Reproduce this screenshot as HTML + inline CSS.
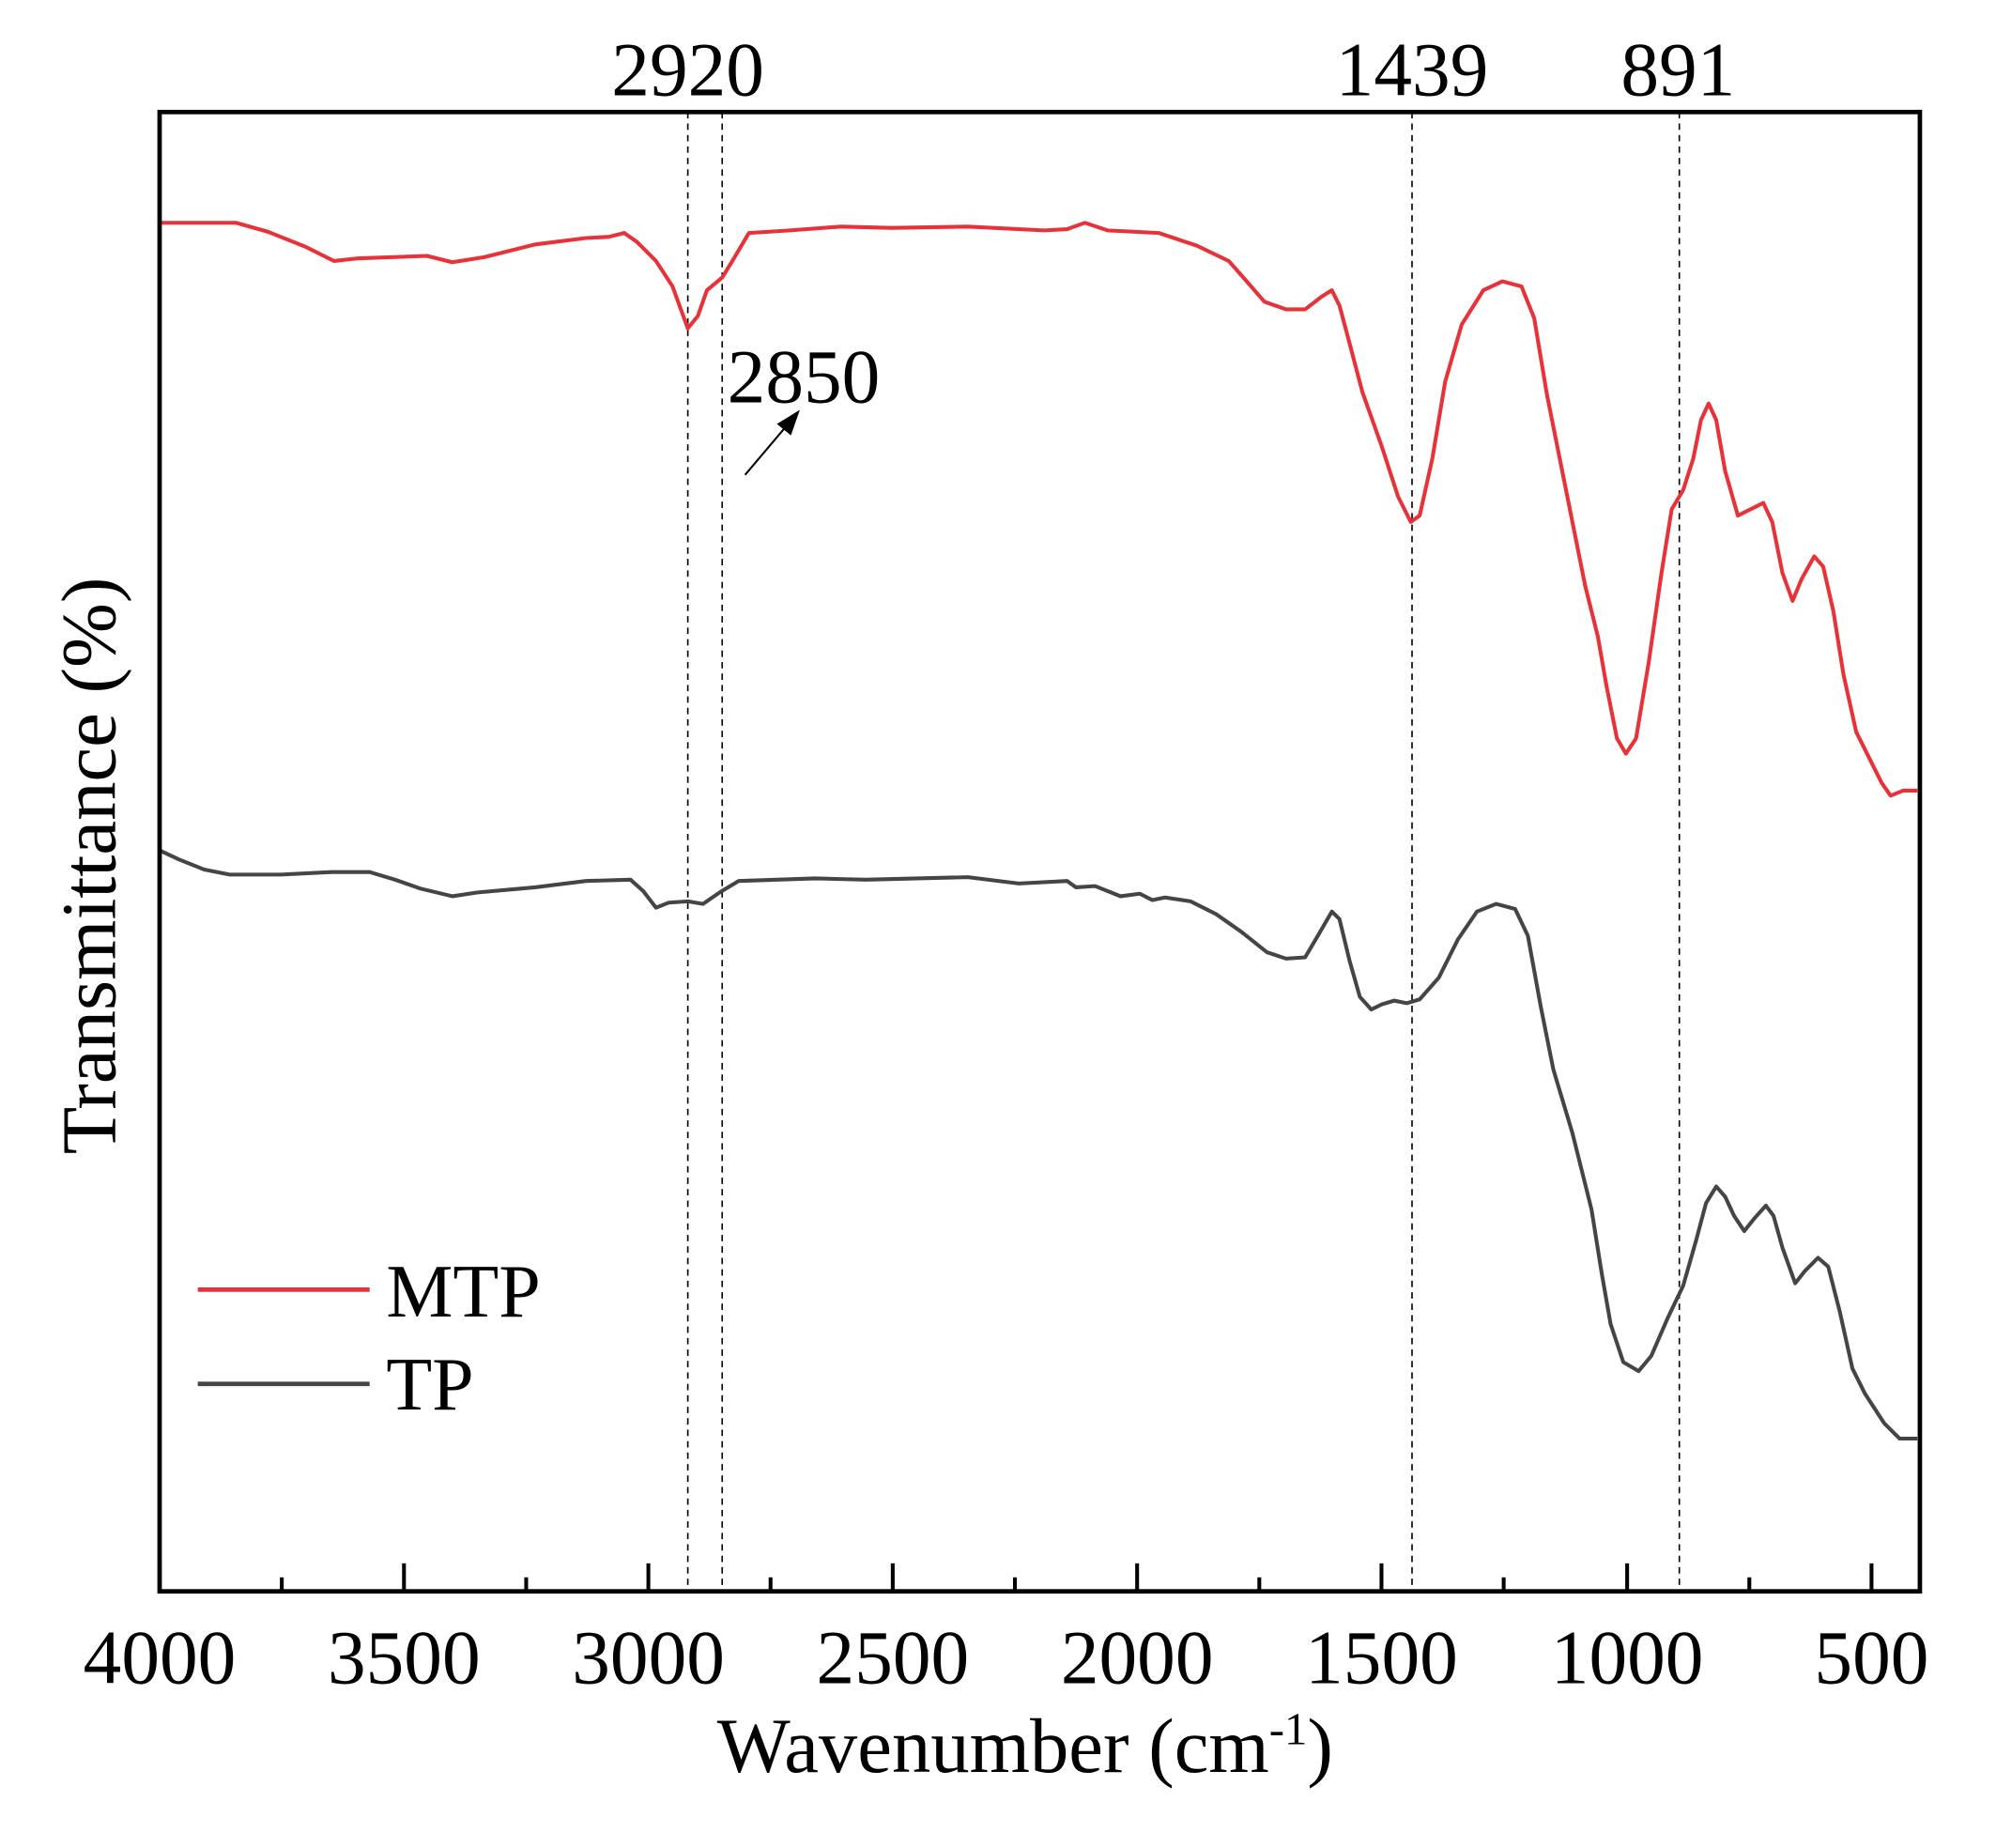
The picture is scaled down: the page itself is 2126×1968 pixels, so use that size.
<!DOCTYPE html>
<html><head><meta charset="utf-8"><style>html,body{margin:0;padding:0;background:#fff}svg{display:block}</style></head>
<body>
<svg width="2126" height="1968" viewBox="-0.4 0 1568.2 1451.6" preserveAspectRatio="none" xmlns="http://www.w3.org/2000/svg" font-family="Liberation Serif, serif">
<g stroke="#000" stroke-width="1.2" stroke-dasharray="5,4" fill="none">
<line x1="540" y1="88" x2="540" y2="1250"/><line x1="567" y1="88" x2="567" y2="1250"/>
<line x1="1109" y1="88" x2="1109" y2="1250"/><line x1="1319" y1="88" x2="1319" y2="1250"/>
</g>
<polyline fill="none" stroke="#e8323a" stroke-width="3" stroke-linejoin="round" points="125,175 185,175 210,182 240,194 262,205 280,203 335,201 355,206 380,202 420,192 460,187 478,186 490,183 500,190 515,205 528,225 540,258 548,248 555,228 567,218 575,205 588,183 620,181 660,178 700,179 760,178 820,181 838,180 852,175 870,181 910,183 940,193 965,205 980,222 993,237 1010,243 1025,243 1038,233 1046,228 1052,240 1060,270 1070,308 1085,350 1098,390 1108,410 1115,405 1125,360 1135,300 1148,255 1165,228 1180,221 1195,225 1205,250 1215,310 1225,360 1235,410 1245,460 1255,500 1262,540 1270,580 1277,592 1285,580 1295,520 1305,450 1313,400 1322,385 1330,360 1336,330 1342,317 1348,330 1355,370 1365,405 1375,400 1385,395 1392,410 1400,450 1408,472 1415,455 1425,437 1432,445 1440,480 1448,530 1458,575 1468,595 1478,615 1485,625 1495,621 1506,621"/>
<polyline fill="none" stroke="#454545" stroke-width="3" stroke-linejoin="round" points="125,668 140,675 160,683 180,687 220,687 260,685 290,685 310,691 330,698 355,704 375,701 420,697 460,692 495,691 505,700 515,713 525,709 540,708 552,710 565,701 580,692 640,690 680,691 760,689 800,694 838,692 845,697 860,696 880,704 895,702 905,707 915,705 935,708 955,718 975,732 995,748 1010,753 1025,752 1035,735 1046,716 1052,722 1060,755 1068,783 1077,793 1085,789 1095,786 1105,788 1115,785 1130,768 1145,738 1160,716 1175,710 1190,714 1200,735 1210,790 1220,840 1235,890 1250,950 1258,1000 1265,1040 1275,1070 1287,1077 1297,1065 1310,1035 1322,1010 1332,975 1340,945 1348,932 1355,940 1362,955 1370,967 1378,957 1387,947 1393,955 1400,980 1410,1008 1418,998 1428,988 1436,995 1445,1030 1455,1075 1465,1095 1480,1118 1492,1130 1506,1130"/>
<rect x="125" y="88" width="1383" height="1162" fill="none" stroke="#000" stroke-width="3.5"/>
<g stroke="#000" stroke-width="3">
<line x1="125" y1="1250" x2="125" y2="1228"/><line x1="221" y1="1250" x2="221" y2="1239"/>
<line x1="317" y1="1250" x2="317" y2="1228"/><line x1="413" y1="1250" x2="413" y2="1239"/>
<line x1="509" y1="1250" x2="509" y2="1228"/><line x1="605" y1="1250" x2="605" y2="1239"/>
<line x1="701" y1="1250" x2="701" y2="1228"/><line x1="797" y1="1250" x2="797" y2="1239"/>
<line x1="893" y1="1250" x2="893" y2="1228"/><line x1="989" y1="1250" x2="989" y2="1239"/>
<line x1="1085" y1="1250" x2="1085" y2="1228"/><line x1="1181" y1="1250" x2="1181" y2="1239"/>
<line x1="1278" y1="1250" x2="1278" y2="1228"/><line x1="1374" y1="1250" x2="1374" y2="1239"/>
<line x1="1470" y1="1250" x2="1470" y2="1228"/>
</g>
<g font-size="60" text-anchor="middle" fill="#000">
<text x="125" y="1322">4000</text><text x="317" y="1322">3500</text><text x="509" y="1322">3000</text>
<text x="701" y="1322">2500</text><text x="893" y="1322">2000</text><text x="1085" y="1322">1500</text>
<text x="1278" y="1322">1000</text><text x="1470" y="1322">500</text>
<text x="540" y="75">2920</text><text x="1109" y="75">1439</text><text x="1318" y="75">891</text>
<text x="631" y="316">2850</text>
</g>
<text x="805" y="1392" font-size="61" text-anchor="middle">Wavenumber (cm<tspan dy="-22" font-size="36">-1</tspan><tspan dy="22">)</tspan></text>
<text transform="translate(90,680) rotate(-90)" font-size="61" text-anchor="middle">Transmittance (%)</text>
<line x1="585" y1="373" x2="618" y2="334" stroke="#000" stroke-width="1.5"/>
<polygon points="628,322 610,333 621,342" fill="#000"/>
<line x1="155" y1="1013" x2="290" y2="1013" stroke="#e8323a" stroke-width="3.5"/>
<line x1="155" y1="1087" x2="290" y2="1087" stroke="#454545" stroke-width="3.5"/>
<text x="303" y="1034" font-size="59">MTP</text>
<text x="303" y="1107" font-size="59">TP</text>
</svg>
</body></html>
